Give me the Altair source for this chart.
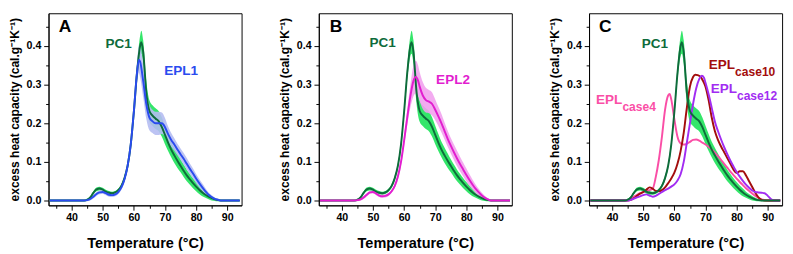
import altair as alt
import pandas as pd

# ---------------- data ----------------
PC1_T = [33, 44, 45, 46, 47, 48, 49, 50, 51, 52, 53, 54, 55, 56, 57, 58, 59, 60, 61, 62, 62.4,
         63, 64, 65, 66, 67, 68, 69, 70, 71, 72, 73, 74, 75, 76, 77, 78, 79, 80, 81, 82, 83, 84,
         85, 86, 87, 88, 94]
PC1_Y = [0, 0, .002, .008, .02, .029, .031, .028, .023, .02, .019, .021, .027, .038, .058, .09,
         .145, .23, .33, .40, .41, .385, .28, .232, .22, .212, .205, .19, .17, .15, .132, .117,
         .103, .09, .077, .065, .055, .045, .036, .028, .021, .015, .01, .006, .003, .001, 0, 0]
PC1_SD = [.002, .002, .003, .003, .004, .005, .005, .005, .005, .005, .004, .004, .004, .005,
          .006, .007, .01, .012, .018, .026, .03, .03, .03, .028, .027, .027, .026, .025, .024,
          .022, .02, .02, .019, .017, .016, .015, .014, .013, .012, .011, .01, .008, .007, .006,
          .004, .003, .002, .002]

EPL1_T = [33, 44, 45, 46, 47, 48, 49, 50, 51, 52, 53, 54, 55, 56, 57, 58, 59, 60, 61, 61.6, 62,
          63, 64, 65, 66, 67, 68, 69, 70, 71, 72, 73, 74, 75, 76, 77, 78, 79, 80, 81, 82, 83, 84,
          85, 86, 87, 88, 94]
EPL1_Y = [0, 0, .001, .004, .01, .017, .021, .022, .019, .015, .014, .016, .022, .034, .055, .09,
          .145, .23, .33, .365, .36, .31, .25, .215, .205, .2, .2, .2, .19, .172, .157, .145, .132,
          .12, .108, .095, .082, .07, .057, .045, .034, .024, .015, .009, .004, .002, 0, 0]
EPL1_SD = [.002, .002, .003, .004, .005, .005, .005, .005, .005, .005, .005, .005, .005, .006,
           .007, .008, .01, .015, .025, .035, .04, .042, .038, .033, .03, .03, .03, .028, .024,
           .02, .018, .016, .015, .015, .015, .015, .014, .013, .012, .011, .01, .008, .006, .005,
           .004, .003, .002, .002]

EPL2_T = [33, 44, 45, 46, 47, 48, 49, 50, 51, 52, 53, 54, 55, 56, 57, 58, 59, 60, 61, 62, 63,
          63.8, 64.5, 65, 66, 67, 68, 69, 70, 71, 72, 73, 74, 75, 76, 77, 78, 79, 80, 81, 82, 83,
          84, 85, 86, 87, 88, 94]
EPL2_Y = [0, 0, .001, .003, .008, .015, .021, .022, .018, .013, .011, .012, .016, .024, .038,
          .062, .1, .155, .215, .27, .31, .32, .31, .295, .272, .26, .256, .25, .235, .218, .2,
          .18, .16, .142, .125, .109, .094, .08, .066, .053, .041, .03, .021, .013, .007, .003, 0, 0]
EPL2_SD = [.002, .002, .003, .003, .004, .004, .004, .004, .004, .004, .004, .004, .004, .004,
           .005, .008, .01, .014, .02, .03, .04, .042, .04, .038, .035, .032, .03, .03, .027,
           .025, .024, .022, .021, .02, .02, .02, .019, .018, .017, .015, .013, .011, .009, .007,
           .005, .003, .002, .002]

CASE4_T = [33, 44, 45, 46, 47, 48, 49, 50, 51, 52, 53, 54, 55, 56, 57, 58, 58.5, 59, 60, 61, 62,
           63, 64, 65, 66, 67, 68, 69, 70, 71, 72, 73, 74, 75, 76, 77, 78, 79, 80, 81, 82, 83, 84,
           85, 86, 87, 88, 89, 90, 94]
CASE4_Y = [0, 0, .001, .004, .01, .015, .019, .022, .025, .027, .03, .06, .105, .165, .235, .272,
           .276, .262, .21, .165, .148, .145, .147, .152, .157, .158, .155, .15, .145, .139, .132,
           .124, .115, .105, .095, .085, .075, .066, .057, .048, .04, .032, .025, .018, .012, .007,
           .003, .001, 0, 0]

CASE10_T = [33, 45, 46, 47, 48, 49, 50, 51, 52, 53, 54, 55, 56, 57, 58, 59, 60, 61, 62, 63, 64,
            65, 66, 66.7, 67.5, 68.5, 69, 70, 71, 72, 73, 74, 75, 76, 77, 78, 79, 80, 81, 82, 83,
            84, 85, 86, 87, 88, 89, 94]
CASE10_Y = [0, 0, .002, .006, .012, .018, .022, .028, .034, .031, .025, .024, .027, .034, .045,
            .057, .072, .095, .128, .175, .24, .295, .32, .326, .325, .32, .313, .295, .26, .215,
            .18, .157, .14, .125, .11, .095, .08, .071, .076, .076, .065, .05, .035, .02, .008,
            .002, 0, 0]

CASE12_T = [33, 45, 46, 47, 48, 49, 50, 51, 52, 53, 54, 55, 56, 57, 58, 59, 60, 61, 62, 63, 64,
            65, 66, 67, 68, 68.8, 69.5, 70, 71, 72, 73, 74, 75, 76, 77, 78, 79, 80, 81, 82, 83,
            84, 85, 86, 87, 88, 89, 90, 91, 92, 94]
CASE12_Y = [0, 0, .002, .005, .008, .011, .014, .016, .013, .01, .012, .017, .022, .027, .031,
            .036, .042, .052, .068, .1, .15, .2, .25, .29, .315, .323, .318, .305, .275, .24, .205,
            .18, .158, .138, .12, .103, .088, .074, .062, .051, .041, .033, .026, .022, .021, .02,
            .019, .012, .004, 0, 0]

# panel annotations: centred labels (text, temperature, value)
LAB_A_TEXT = ["A", "PC1", "EPL1"]
LAB_A_T = [37.9, 55.1, 75.2]
LAB_A_V = [0.45, 0.405, 0.335]
LAB_B_TEXT = ["B", "PC1", "EPL2"]
LAB_B_T = [38.1, 53.1, 75.7]
LAB_B_V = [0.45, 0.407, 0.313]
LAB_C_TEXT = ["C", "PC1"]
LAB_C_T = [37.8, 53.7]
LAB_C_V = [0.45, 0.405]
# subscripted labels in panel C: main text ends / subscript starts at the junction
SUB_MAIN = ["EPL", "EPL", "EPL"]
SUB_TEXT = ["case10", "case12", "case4"]
SUB_T = [79.5, 80.1, 43.3]
SUB_V_MAIN = [0.35, 0.288, 0.259]
SUB_V_SUB = [0.333, 0.271, 0.242]

X_MAJOR = [40, 50, 60, 70, 80, 90]
X_MINOR = [35, 45, 55, 65, 75, 85]
Y_MAJOR = [0.0, 0.1, 0.2, 0.3, 0.4]
Y_MINOR = [0.05, 0.15, 0.25, 0.35, 0.45]

# ---------------- styling ----------------
FONT = "Liberation Sans"
PC1_LINE, PC1_BAND = "#0e6b3b", "#1ee35a"
EPL1_LINE, EPL1_BAND = "#2a4bef", "#b5bcf2"
EPL2_LINE, EPL2_BAND = "#e21ecf", "#f2a2ee"
C4, C10, C12 = "#fa4ea6", "#a30d0d", "#a22cf2"

xs = alt.Scale(domain=[32.6, 94.6], nice=False, zero=False)
ys = alt.Scale(domain=[-0.0125, 0.485], nice=False, zero=False)


def frame(T, Y, SD=None):
    d = pd.DataFrame({"T": T, "v": Y})
    if SD is not None:
        d["lo"] = [a - b for a, b in zip(Y, SD)]
        d["hi"] = [a + b for a, b in zip(Y, SD)]
    return d


pc1 = frame(PC1_T, PC1_Y, PC1_SD)
epl1 = frame(EPL1_T, EPL1_Y, EPL1_SD)
epl2 = frame(EPL2_T, EPL2_Y, EPL2_SD)
c4 = frame(CASE4_T, CASE4_Y)
c10 = frame(CASE10_T, CASE10_Y)
c12 = frame(CASE12_T, CASE12_Y)


def axes_layer():
    major = alt.Chart(pc1).mark_point(opacity=0).encode(
        x=alt.X("T:Q", scale=xs, axis=alt.Axis(
            values=X_MAJOR, title="Temperature (°C)", orient="bottom", tickSize=5,
            labelPadding=2, titlePadding=14, labelFontSize=11, titleFontSize=15)),
        y=alt.Y("v:Q", scale=ys, axis=alt.Axis(
            values=Y_MAJOR, format=".1f", title="excess heat capacity (cal.g⁻¹K⁻¹)",
            orient="left", tickSize=5, labelPadding=3, titlePadding=5,
            labelFontSize=11, titleFontSize=12.5)),
    )
    minor = alt.Chart(pc1).mark_point(opacity=0).encode(
        x=alt.X("T:Q", scale=xs, axis=alt.Axis(
            values=X_MINOR, labels=False, title=None, domain=False, orient="bottom",
            tickSize=3)),
        y=alt.Y("v:Q", scale=ys, axis=alt.Axis(
            values=Y_MINOR, labels=False, title=None, domain=False, orient="left",
            tickSize=3)),
    )
    return [major, minor]


def band(d, color):
    return alt.Chart(d).mark_area(color=color, opacity=0.9, interpolate="monotone").encode(
        x=alt.X("T:Q", scale=xs, axis=None),
        y=alt.Y("lo:Q", scale=ys, axis=None),
        y2="hi:Q",
    )


def line(d, color, w=2):
    return alt.Chart(d).mark_line(color=color, strokeWidth=w, interpolate="monotone").encode(
        x=alt.X("T:Q", scale=xs, axis=None),
        y=alt.Y("v:Q", scale=ys, axis=None),
    )


def labels(texts, ts, vs, colors, sizes, align="center"):
    d = pd.DataFrame({"text": texts, "T": ts, "v": vs, "c": colors, "s": sizes})
    return alt.Chart(d).mark_text(font=FONT, fontWeight="bold", align=align,
                                  baseline="middle").encode(
        x=alt.X("T:Q", scale=xs, axis=None),
        y=alt.Y("v:Q", scale=ys, axis=None),
        text="text:N",
        color=alt.Color("c:N", scale=None),
        size=alt.Size("s:Q", scale=None),
    )


def panel(layers):
    return alt.layer(*axes_layer(), *layers).properties(width=200, height=199).resolve_axis(
        x="independent", y="independent")


A = panel([
    band(pc1, PC1_BAND), band(epl1, EPL1_BAND),
    line(pc1, PC1_LINE), line(epl1, EPL1_LINE),
    labels(LAB_A_TEXT, LAB_A_T, LAB_A_V, ["black", PC1_LINE, EPL1_LINE], [18, 14, 14]),
])
B = panel([
    band(pc1, PC1_BAND), band(epl2, EPL2_BAND),
    line(pc1, PC1_LINE), line(epl2, EPL2_LINE),
    labels(LAB_B_TEXT, LAB_B_T, LAB_B_V, ["black", PC1_LINE, EPL2_LINE], [18, 14, 14]),
])
SUB_COLORS = [C10, C12, C4]
C = panel([
    band(pc1, PC1_BAND),
    line(c4, C4), line(c10, C10), line(c12, C12), line(pc1, PC1_LINE),
    labels(LAB_C_TEXT, LAB_C_T, LAB_C_V, ["black", PC1_LINE], [18, 14]),
    labels(SUB_MAIN, SUB_T, SUB_V_MAIN, SUB_COLORS, [14, 14, 14], align="right"),
    labels(SUB_TEXT, SUB_T, SUB_V_SUB, SUB_COLORS, [12.5, 12.5, 12.5], align="left"),
])

chart = alt.hconcat(A, B, C, spacing=35).properties(
    padding={"left": 0, "top": 0, "right": 0, "bottom": 0}
).configure_view(stroke="black", strokeWidth=1).configure_axis(
    labelFont=FONT, titleFont=FONT, labelFontWeight="bold", titleFontWeight="bold",
    labelColor="black", titleColor="black", domainColor="black", tickColor="black",
    grid=False,
)

chart.save("out.html", embed_options={"renderer": "svg", "actions": False})
